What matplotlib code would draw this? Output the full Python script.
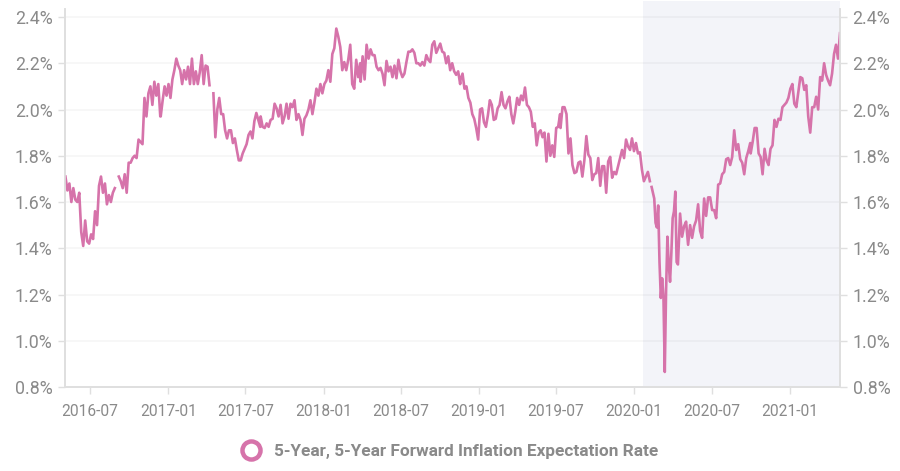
import matplotlib
matplotlib.use("Agg")
import matplotlib.pyplot as plt
import numpy as np
import pandas as pd
from matplotlib.lines import Line2D
from matplotlib.ticker import FuncFormatter

plt.rcParams["font.family"] = ["Roboto", "DejaVu Sans"]

nan = float("nan")

# values, one list per stretch of dates
rate_a = [1.71, 1.65, 1.68, 1.60, 1.66, 1.61, 1.60, 1.64, 1.47, 1.41, 1.52, 1.43, 1.42, 1.46, 1.44, 1.56,
          1.50, 1.67, 1.71, 1.64, 1.68, 1.59, 1.63, 1.60, 1.64, 1.66, nan, 1.71, 1.69, 1.66, 1.72, 1.64,
          1.77, 1.77, 1.79, 1.80, 1.79, 1.87, 1.86, 1.85, 2.05, 1.97, 2.07, 2.10, 2.02, 2.12, 2.06, 2.11, 1.97]
rate_b = [1.97, 2.04, 2.10, 2.06, 2.11, 2.05, 2.13, 2.17, 2.22, 2.19, 2.17, 2.11, 2.17, 2.13, 2.185, 2.11,
          2.22, 2.11, 2.165, 2.11, 2.16, 2.235, 2.11, 2.19, 2.185, 2.105, nan, 2.07, 1.88, 2.00, 2.05, 1.98,
          1.98, 1.91, 1.875, 1.91, 1.91, 1.855, 1.875, 1.825, 1.78, 1.78, 1.81, 1.83, 1.85, 1.89, 1.905,
          1.875, 1.95, 1.985, 1.955, 1.925]
rate_c = [1.97, 1.925, 1.92, 1.94, 1.925, 1.955, 1.96, 2.025, 2.005, 1.97, 2.02, 1.94, 1.97, 2.025, 1.96,
          2.025, 2.01, 2.04, 1.955, 1.98, 1.955, 1.89, 1.96, 1.975, 2.00, 2.04, 1.98, 2.03, 2.09, 2.06, 2.11,
          2.07, 2.11, 2.125, 2.17, 2.12, 2.24, 2.265, 2.35, 2.315, 2.27, 2.17, 2.205, 2.17, 2.215, 2.28, 2.11,
          2.09, 2.215, 2.14, 2.20]
rate_d = [2.12, 2.23, 2.13, 2.28, 2.22, 2.26, 2.235, 2.235, 2.185, 2.17, 2.18, 2.155, 2.105, 2.21, 2.165,
          2.185, 2.14, 2.19, 2.135, 2.215, 2.165, 2.14, 2.155, 2.205, 2.25, 2.25, 2.26, 2.245, 2.20, 2.20, 2.19,
          2.205, 2.19, 2.235, 2.215, 2.205, 2.28, 2.295, 2.245, 2.265, 2.285, 2.25, 2.245, 2.20, 2.23, 2.17,
          2.20, 2.165, 2.15, 2.165, 2.11]
rate_e = [2.13, 2.155, 2.09, 2.10, 2.05, 2.03, 1.98, 1.96, 1.92, 1.87, 2.00, 2.005, 1.945, 1.925, 1.975, 2.04,
          2.02, 1.955, 1.96, 2.005, 2.02, 2.075, 2.02, 2.005, 2.035, 2.055, 1.98, 1.94, 1.99, 2.05, 2.02, 2.06,
          2.04, 2.095, 2.02, 2.01, 1.99, 1.925, 1.94, 1.845, 1.90, 1.91, 1.88, 1.90, 1.775, 1.895, 1.80, 1.845,
          1.795, 1.92, 1.925, 1.98]
rate_f = [1.92, 2.01, 2.01, 1.98, 1.81, 1.875, 1.76, 1.725, 1.73, 1.77, 1.775, 1.71, 1.78, 1.885, 1.805, 1.79,
          1.695, 1.72, 1.725, 1.79, 1.67, 1.755, 1.755, 1.64, 1.775, 1.795, 1.705, 1.73, 1.72, 1.755, 1.79,
          1.825, 1.79, 1.87, 1.84, 1.825, 1.875, 1.82, 1.855, 1.81, 1.815, 1.74, 1.69, 1.71, 1.73, 1.69]
rate_g = [nan, 1.665, 1.64, 1.615, 1.51, 1.49, 1.585, 1.34, 1.185, 1.27, 1.19, 0.865, 1.22, 1.45, 1.33, 1.255,
          1.38, 1.53, 1.56, 1.645, 1.34, 1.33]
rate_h = [1.55, 1.45, 1.495, 1.515, 1.415, 1.50, 1.445, 1.495, 1.52, 1.59, 1.475, 1.445, 1.615, 1.54, 1.62, 1.62,
          1.565, 1.565, 1.53, 1.675, 1.68, 1.72, 1.73, 1.785, 1.79, 1.76, 1.795, 1.91, 1.825, 1.85, 1.785, 1.77,
          1.72, 1.79, 1.82, 1.855]
rate_i = [1.81, 1.86, 1.92, 1.92, 1.81, 1.795, 1.72, 1.83, 1.78, 1.76, 1.83, 1.845, 1.955, 1.925, 1.96, 1.955,
          2.01, 2.02, 2.03, 2.05, 2.09, 2.11, 2.025, 2.01, 2.075, 2.14, 2.135, 2.085, 2.105, 1.97, 1.90, 2.01,
          2.01, 2.055, 2.00, 2.14, 2.125, 2.20, 2.15, 2.125, 2.105, 2.155, 2.24, 2.28, 2.22, 2.33]

stretches = [
    ("2016-05-04", "2016-12-13", rate_a),
    ("2016-12-14", "2017-08-05", rate_b),
    ("2017-08-06", "2018-03-28", rate_c),
    ("2018-03-29", "2018-11-18", rate_d),
    ("2018-11-19", "2019-07-11", rate_e),
    ("2019-07-12", "2020-02-07", rate_f),
    ("2020-02-08", "2020-04-13", rate_g),
    ("2020-04-18", "2020-09-30", rate_h),
    ("2020-10-01", "2021-04-29", rate_i),
]

dates = []
values = []
for start, end, vals in stretches:
    dates.extend(pd.date_range(start, end, periods=len(vals)))
    values.extend(vals)

tick_dates = pd.to_datetime(["2016-07-01", "2017-01-01", "2017-07-01", "2018-01-01", "2018-07-01",
                             "2019-01-01", "2019-07-01", "2020-01-01", "2020-07-01", "2021-01-01"])
y_ticks = [0.8, 1.0, 1.2, 1.4, 1.6, 1.8, 2.0, 2.2, 2.4]
series_name = "5-Year, 5-Year Forward Inflation Expectation Rate"

line_color = "#d673aa"
text_color = "#8a8a8a"
axis_color = "#dfdfdf"

fig = plt.figure(figsize=(9, 4.71), dpi=100)
ax = fig.add_axes([65 / 900, 84 / 471, 775 / 900, 378 / 471])

ax.axvspan(pd.Timestamp("2020-01-23"), pd.Timestamp("2021-04-29"), ymin=0, ymax=1.021,
           color="#f3f4f9", lw=0, zorder=0, clip_on=False)
ax.plot(dates, values, color=line_color, lw=1.9, zorder=3, solid_joinstyle="round")

ax.set_xlim(pd.Timestamp("2016-05-03"), pd.Timestamp("2021-04-29"))
ax.set_ylim(0.8, 2.4346)
ax.set_xticks(tick_dates)
ax.set_xticklabels([d.strftime("%Y-%m") for d in tick_dates])
ax.set_yticks(y_ticks)
ax.yaxis.set_major_formatter(FuncFormatter(lambda v, _: f"{v:.1f}%"))
ax.set_axisbelow(True)
ax.grid(axis="y", color="black", alpha=0.04, lw=1.2)

ax2 = ax.twinx()
ax2.set_ylim(ax.get_ylim())
ax2.set_yticks(y_ticks)
ax2.yaxis.set_major_formatter(FuncFormatter(lambda v, _: f"{v:.1f}%"))

for a in (ax, ax2):
    a.spines["top"].set_visible(False)
    for side in ("left", "right", "bottom"):
        a.spines[side].set_color(axis_color)
        a.spines[side].set_linewidth(1.2)
    a.tick_params(axis="y", length=5, width=1, color=axis_color, labelcolor=text_color, labelsize=12.8, pad=4)
    a.tick_params(axis="x", length=5, width=1, color=axis_color, labelcolor=text_color, labelsize=11.2, pad=7)

handle = Line2D([], [], color="none", marker="o", markersize=13, markerfacecolor="white",
                markeredgecolor=line_color, markeredgewidth=3.2)
fig.legend([handle], [series_name], loc="center", bbox_to_anchor=(450 / 900, 1 - 451 / 471), frameon=False,
           handlelength=1, handletextpad=0.85, prop={"size": 12.4, "weight": "bold"}, labelcolor=text_color)

fig.savefig("out.png", dpi=100)
